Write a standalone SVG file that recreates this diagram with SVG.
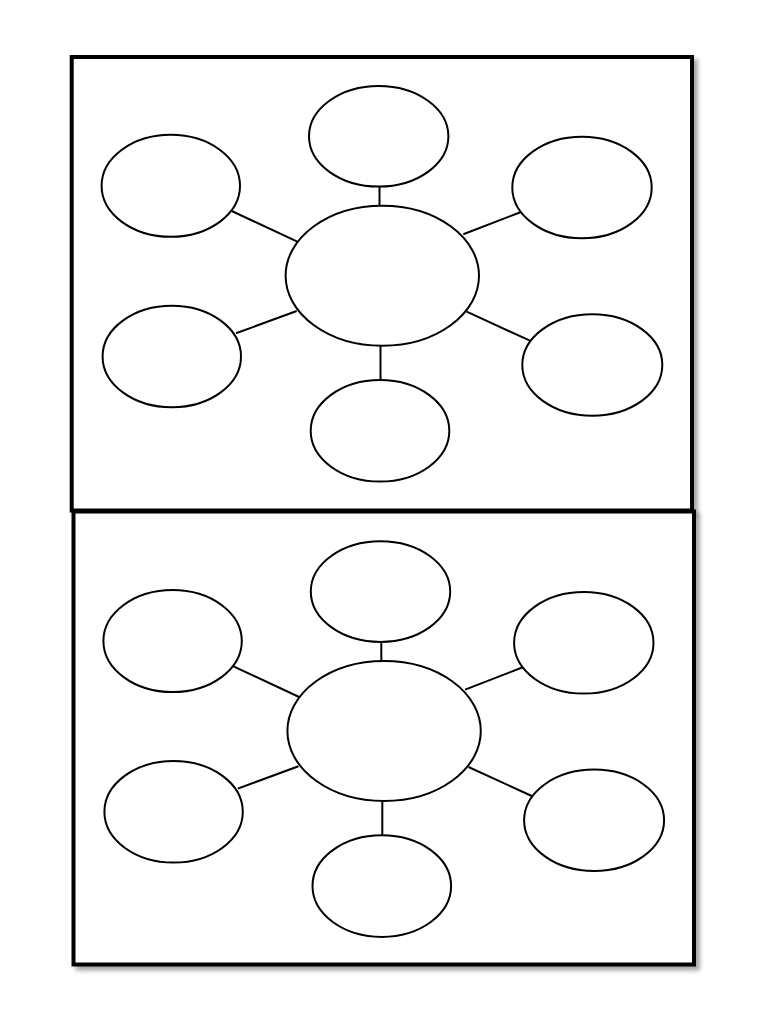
<svg xmlns="http://www.w3.org/2000/svg" width="768" height="1024" viewBox="0 0 768 1024">
  <defs>
    <filter id="shadow" x="-5%" y="-5%" width="110%" height="110%">
      <feDropShadow dx="4" dy="4" stdDeviation="2" flood-color="#000" flood-opacity="0.35"/>
    </filter>
  </defs>
  <style>
    .frame { fill: #fff; stroke: #000; stroke-width: 4; }
    .node { fill: #fff; stroke: #000; stroke-width: 2; }
    .link { stroke: #000; stroke-width: 2; fill: none; }
  </style>
  <rect width="768" height="1024" fill="#fff"/>

  <g id="frame-top"><rect class="frame" x="71.7" y="57" width="620.3" height="453.5" filter="url(#shadow)"/></g>
  <g id="frame-bottom"><rect class="frame" x="73.5" y="511.5" width="620.5" height="453" filter="url(#shadow)"/></g>

  <g id="panel-top">
    <g id="connectors-top">
      <line class="link" x1="379.5" y1="186.5" x2="379.5" y2="206"/>
      <line class="link" x1="380.5" y1="345.5" x2="380.5" y2="380.5"/>
      <line class="link" x1="231.7" y1="211" x2="297.3" y2="241.7"/>
      <line class="link" x1="236" y1="333.3" x2="296.7" y2="311"/>
      <line class="link" x1="463.3" y1="234.3" x2="521.7" y2="211.7"/>
      <line class="link" x1="466.7" y1="311.7" x2="530" y2="340.7"/>
    </g>
    <g id="center-top"><ellipse class="node" cx="382.3" cy="275.7" rx="96.7" ry="70"/></g>
    <g id="top-top"><ellipse class="node" cx="378.7" cy="136.3" rx="69.7" ry="50.3"/></g>
    <g id="upper-left-top"><ellipse class="node" cx="170.8" cy="185.8" rx="69.2" ry="51"/></g>
    <g id="upper-right-top"><ellipse class="node" cx="582" cy="187.5" rx="69.7" ry="50.8"/></g>
    <g id="lower-left-top"><ellipse class="node" cx="171.8" cy="356.5" rx="69.2" ry="50.8"/></g>
    <g id="lower-right-top"><ellipse class="node" cx="592.3" cy="365" rx="70" ry="50.7"/></g>
    <g id="bottom-top"><ellipse class="node" cx="380" cy="430.8" rx="69.3" ry="50.8"/></g>
  </g>

  <g id="panel-bottom" transform="translate(1.8,455.3)">
    <g id="connectors-bottom">
      <line class="link" x1="379.5" y1="186.5" x2="379.5" y2="206"/>
      <line class="link" x1="380.5" y1="345.5" x2="380.5" y2="380.5"/>
      <line class="link" x1="231.7" y1="211" x2="297.3" y2="241.7"/>
      <line class="link" x1="236" y1="333.3" x2="296.7" y2="311"/>
      <line class="link" x1="463.3" y1="234.3" x2="521.7" y2="211.7"/>
      <line class="link" x1="466.7" y1="311.7" x2="530" y2="340.7"/>
    </g>
    <g id="center-bottom"><ellipse class="node" cx="382.3" cy="275.7" rx="96.7" ry="70"/></g>
    <g id="top-bottom"><ellipse class="node" cx="378.7" cy="136.3" rx="69.7" ry="50.3"/></g>
    <g id="upper-left-bottom"><ellipse class="node" cx="170.8" cy="185.8" rx="69.2" ry="51"/></g>
    <g id="upper-right-bottom"><ellipse class="node" cx="582" cy="187.5" rx="69.7" ry="50.8"/></g>
    <g id="lower-left-bottom"><ellipse class="node" cx="171.8" cy="356.5" rx="69.2" ry="50.8"/></g>
    <g id="lower-right-bottom"><ellipse class="node" cx="592.3" cy="365" rx="70" ry="50.7"/></g>
    <g id="bottom-bottom"><ellipse class="node" cx="380" cy="430.8" rx="69.3" ry="50.8"/></g>
  </g>
</svg>
